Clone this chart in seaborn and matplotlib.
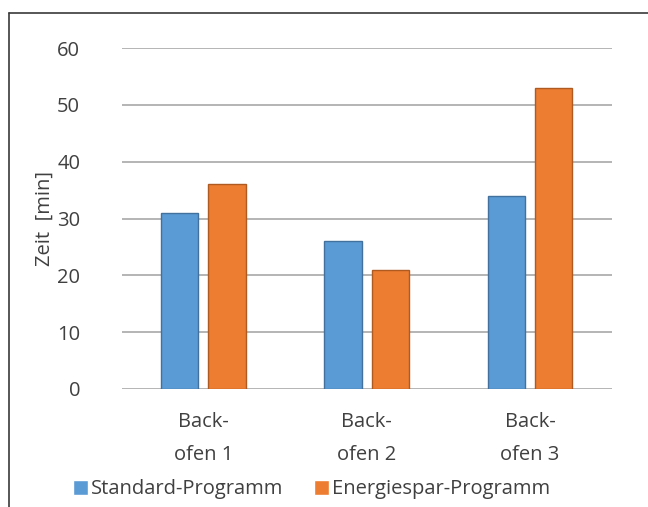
import matplotlib
matplotlib.use("Agg")
import matplotlib.pyplot as plt
from matplotlib.lines import Line2D
import seaborn as sns
import pandas as pd

# Baking time per oven and program
ovens = ["Back-\nofen 1", "Back-\nofen 2", "Back-\nofen 3"]
standard = [31, 26, 34]
energiespar = [36, 21, 53]
series_names = ["Standard-Programm", "Energiespar-Programm"]
y_ticks = [0, 10, 20, 30, 40, 50, 60]

df = pd.DataFrame({
    "Ofen": ovens * 2,
    "Zeit": standard + energiespar,
    "Programm": [series_names[0]] * len(ovens) + [series_names[1]] * len(ovens),
})

sns.set_theme(style="white")
plt.rcParams["font.family"] = ["Open Sans", "DejaVu Sans"]

fig = plt.figure(figsize=(6.48, 5.07), dpi=100)
ax = fig.add_axes([0.188, 0.233, 0.756, 0.672])

palette = {series_names[0]: "#5B9BD5", series_names[1]: "#ED7D31"}
sns.barplot(data=df, x="Ofen", y="Zeit", hue="Programm", palette=palette,
            width=0.58, gap=0.21, saturation=1, ax=ax, zorder=3)

edge = {"#5B9BD5": "#41719C", "#ED7D31": "#AE5A21"}
for cont, name in zip(ax.containers, series_names):
    for bar in cont:
        bar.set_edgecolor(edge[palette[name]])
        bar.set_linewidth(1.0)

ax.set_ylim(0, 60)
ax.set_xlim(-0.5, 2.5)
ax.set_yticks(y_ticks)
ax.yaxis.grid(True, color="#B4B4B4", linewidth=1.4, zorder=0)
ax.set_axisbelow(True)
for s in ax.spines.values():
    s.set_visible(False)

ax.tick_params(axis="y", length=0, pad=30, labelsize=14.5, labelcolor="#404040")
ax.tick_params(axis="x", length=0, pad=17, labelsize=14.5, labelcolor="#404040")
for lbl in ax.get_xticklabels():
    lbl.set_linespacing(1.85)

ax.set_xlabel("")
ax.set_ylabel("Zeit  [min]", fontsize=14.5, color="#404040", labelpad=2)

sns.move_legend(ax, "center left", bbox_to_anchor=(0.113, 0.035),
                bbox_transform=fig.transFigure, ncol=2, frameon=False,
                title=None, fontsize=14.5, handlelength=0.75, handleheight=0.75,
                handletextpad=0.15, columnspacing=1.5, borderaxespad=0,
                borderpad=0)
for t in ax.get_legend().get_texts():
    t.set_color("#404040")

# frame around the chart area
fig.add_artist(Line2D([0.014, 0.014], [0.0, 0.974], transform=fig.transFigure,
                      color="#3A3A3A", linewidth=1.2))
fig.add_artist(Line2D([0.014, 1.0], [0.974, 0.974], transform=fig.transFigure,
                      color="#3A3A3A", linewidth=1.2))

fig.savefig("out.png", dpi=100)
